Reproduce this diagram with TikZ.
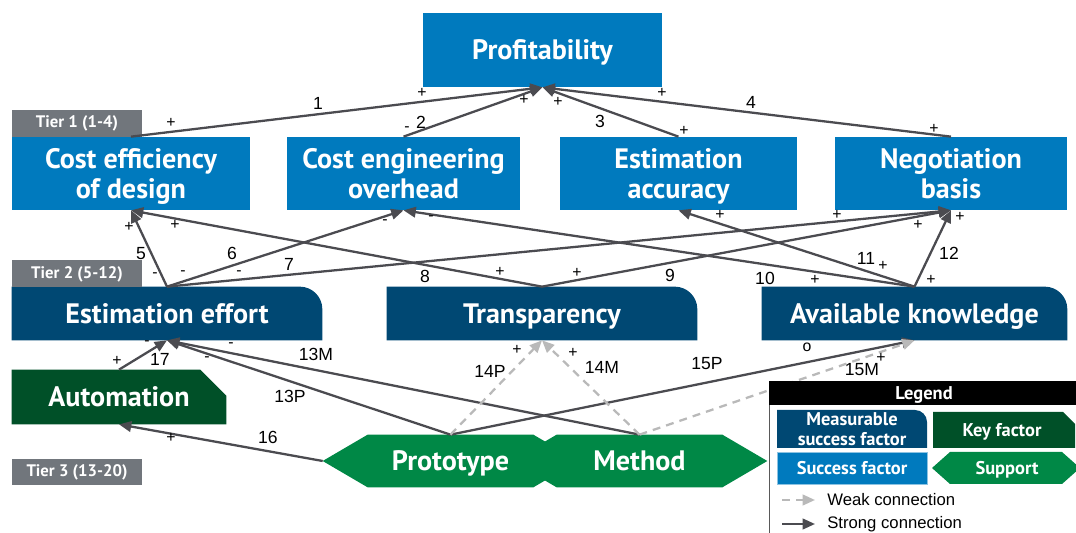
\documentclass[tikz,border=0pt]{standalone}
\usepackage{fontspec}
\setmainfont{PT Sans}
\newfontfamily\lblfont{Liberation Sans}
\usetikzlibrary{arrows.meta,backgrounds}
\definecolor{sfblue}{RGB}{0,122,190}
\definecolor{msblue}{RGB}{0,72,115}
\definecolor{kfgreen}{RGB}{0,80,40}
\definecolor{spgreen}{RGB}{0,136,70}
\definecolor{tiergray}{RGB}{113,118,124}
\definecolor{strongc}{RGB}{75,75,80}
\definecolor{weakc}{RGB}{185,185,185}

\begin{document}
\begin{tikzpicture}[x=0.02cm,y=-0.02cm,
  box/.style={text=white,align=center,inner sep=0pt,text depth=0pt,font=\bfseries\fontsize{16}{17}\selectfont},
  t1/.style={box,minimum height=1.46cm},
  t2/.style={box,minimum height=1.06cm},
  t3/.style={box,minimum height=1.04cm,minimum width=5.1cm},
  tier/.style={fill=tiergray,text=white,inner sep=0pt,minimum width=2.6cm,minimum height=0.54cm,
    font=\bfseries\fontsize{9.5}{11}\selectfont},
  strongarr/.style={draw=strongc,line width=1.3pt,-{Triangle[length=7pt,width=6pt]}},
  weakarr/.style={draw=weakc,line width=1.3pt,dash pattern=on 4.5pt off 3.5pt,-{Triangle[length=7pt,width=6pt]}},
  num/.style={font=\lblfont\fontsize{10}{11}\selectfont,inner sep=0pt},
  sgn/.style={font=\lblfont\fontsize{9}{10}\selectfont,inner sep=0pt},
  legbox/.style={text=white,align=center,inner sep=0pt,text depth=0pt,font=\bfseries\fontsize{10.5}{11}\selectfont},
  legtext/.style={font=\lblfont\fontsize{9.5}{11}\selectfont,inner sep=0pt}]
\useasboundingbox (0,0) rectangle (1076,533);

\node[box,minimum width=4.78cm,minimum height=1.48cm] (prof) at (542.5,50) {Profitability};
\node[t1,minimum width=4.76cm] (ced) at (131,173.5) {Cost efficiency\\of design};
\node[t1,minimum width=4.66cm] (ceo) at (403.5,173.5) {Cost engineering\\overhead};
\node[t1,minimum width=4.74cm] (eac) at (678.5,173.5) {Estimation\\accuracy};
\node[t1,minimum width=4.64cm] (nba) at (951,173.5) {Negotiation\\basis};
\node[t2,minimum width=6.2cm] (eef) at (167,313.5) {Estimation effort};
\node[t2,minimum width=6.2cm] (tra) at (542,313.5) {Transparency};
\node[t2,minimum width=6.1cm] (akn) at (914.5,313.5) {Available knowledge};
\node[box,minimum width=4.28cm,minimum height=1.08cm] (aut) at (119,397) {Automation};
\node[t3] (pro) at (450.5,461) {Prototype};
\node[t3] (met) at (639.5,461) {Method};

\foreach \lbl/\y [count=\i] in {Tier 1 (1-4)/123.5,Tier 2 (5-12)/274,Tier 3 (13-20)/472}
  \node[tier] (tier\i) at (77,\y) {\lbl};

\begin{pgfonlayer}{background}
  \foreach \n in {prof,ced,ceo,eac,nba}
    \fill[sfblue] (\n.south west) rectangle (\n.north east);
  \foreach \n in {eef,tra,akn}
    \fill[msblue] (\n.south west) -- (\n.north west) -- ([xshift=-0.45cm]\n.north east)
      arc[start angle=90,end angle=0,radius=0.45cm] -- (\n.south east) -- cycle;
  \fill[kfgreen] (aut.south west) -- (aut.north west) -- ([xshift=-0.52cm]aut.north east)
    -- ([yshift=-0.52cm]aut.north east) -- (aut.south east) -- cycle;
  \foreach \n in {pro,met}
    \fill[spgreen] (\n.west) -- ([xshift=0.9cm]\n.north west) -- ([xshift=-0.9cm]\n.north east)
      -- (\n.east) -- ([xshift=-0.9cm]\n.south east) -- ([xshift=0.9cm]\n.south west) -- cycle;
\end{pgfonlayer}

\foreach \a/\b in {ced/prof,ceo/prof,eac/prof,nba/prof,eef/ced,eef/ceo,eef/nba,tra/ced,tra/nba,
    akn/ceo,akn/eac,akn/nba,aut/eef,pro/eef,met/eef,pro/akn}
  \draw[strongarr] (\a.north) -- (\b.south);
\draw[strongarr] (pro.west) -- (aut.south);
\foreach \a/\b in {pro/tra,met/tra,met/akn}
  \draw[weakarr] (\a.north) -- (\b.south);

\foreach \lbl/\x/\y [count=\i] in {1/318/103,2/421/122,3/600/121,4/751/102,5/141/254,6/232/253,
    7/289/264,8/425/276,9/670/275,10/765/278,11/866/258,12/949/253,13M/316/354,13P/290/396,
    14P/490/371,14M/602/367,15P/707/364,15M/862/370,16/268/437,17/160/359}
  \node[num] (n\i) at (\x,\y) {\lbl};
\foreach \lbl/\x/\y [count=\i] in {+/171/123,-/407/129,+/422/93,+/524/100,+/558/102,+/662/93,
    +/684/131,+/934/129,+/129/227,+/175/225,-/385/222,-/431/218,+/720/215,+/837/215,+/918/225,
    +/960/217,-/155/275,-/183/273,-/239/273,+/500/272,+/577/273,+/815/280,+/883/266,+/931/280,
    -/147/343,+/117/361,-/207/359,-/231/345,+/171/438,+/517/350,+/573/353,o/807/347,+/881/358}
  \node[sgn] (s\i) at (\x,\y) {\lbl};

\draw[gray!70!black,fill=white] (769,381) rectangle (1090,545);
\fill[black] (769,381) rectangle (1090,405);
\node[legbox] (leg) at (924,393) {Legend};
\fill[msblue] (777,448) -- (777,410) -- (915,410) arc[start angle=90,end angle=0,radius=0.24cm]
  -- (927,448) -- cycle;
\fill[kfgreen] (933,448) -- (933,412) -- (1063,412) -- (1075,424) -- (1075,448) -- cycle;
\filldraw[fill=sfblue,draw=sfblue!45] (777,452) rectangle (927,484);
\fill[spgreen] (932,468) -- (950,452) -- (1062,452) -- (1080,468) -- (1062,484) -- (950,484) -- cycle;
\node[legbox] (lms) at (852,429) {Measurable\\success factor};
\node[legbox] (lkf) at (1002,430) {Key factor};
\node[legbox] (lsf) at (852,468) {Success factor};
\node[legbox] (lsp) at (1007,468) {Support};
\coordinate (wk0) at (782,500);
\coordinate (wk1) at (815,500);
\coordinate (st0) at (782,524);
\coordinate (st1) at (815,524);
\draw[weakarr] (wk0) -- (wk1);
\draw[strongarr] (st0) -- (st1);
\node[legtext,anchor=west] (lwk) at (827,500) {Weak connection};
\node[legtext,anchor=west] (lst) at (827,524) {Strong connection};
\end{tikzpicture}
\end{document}
